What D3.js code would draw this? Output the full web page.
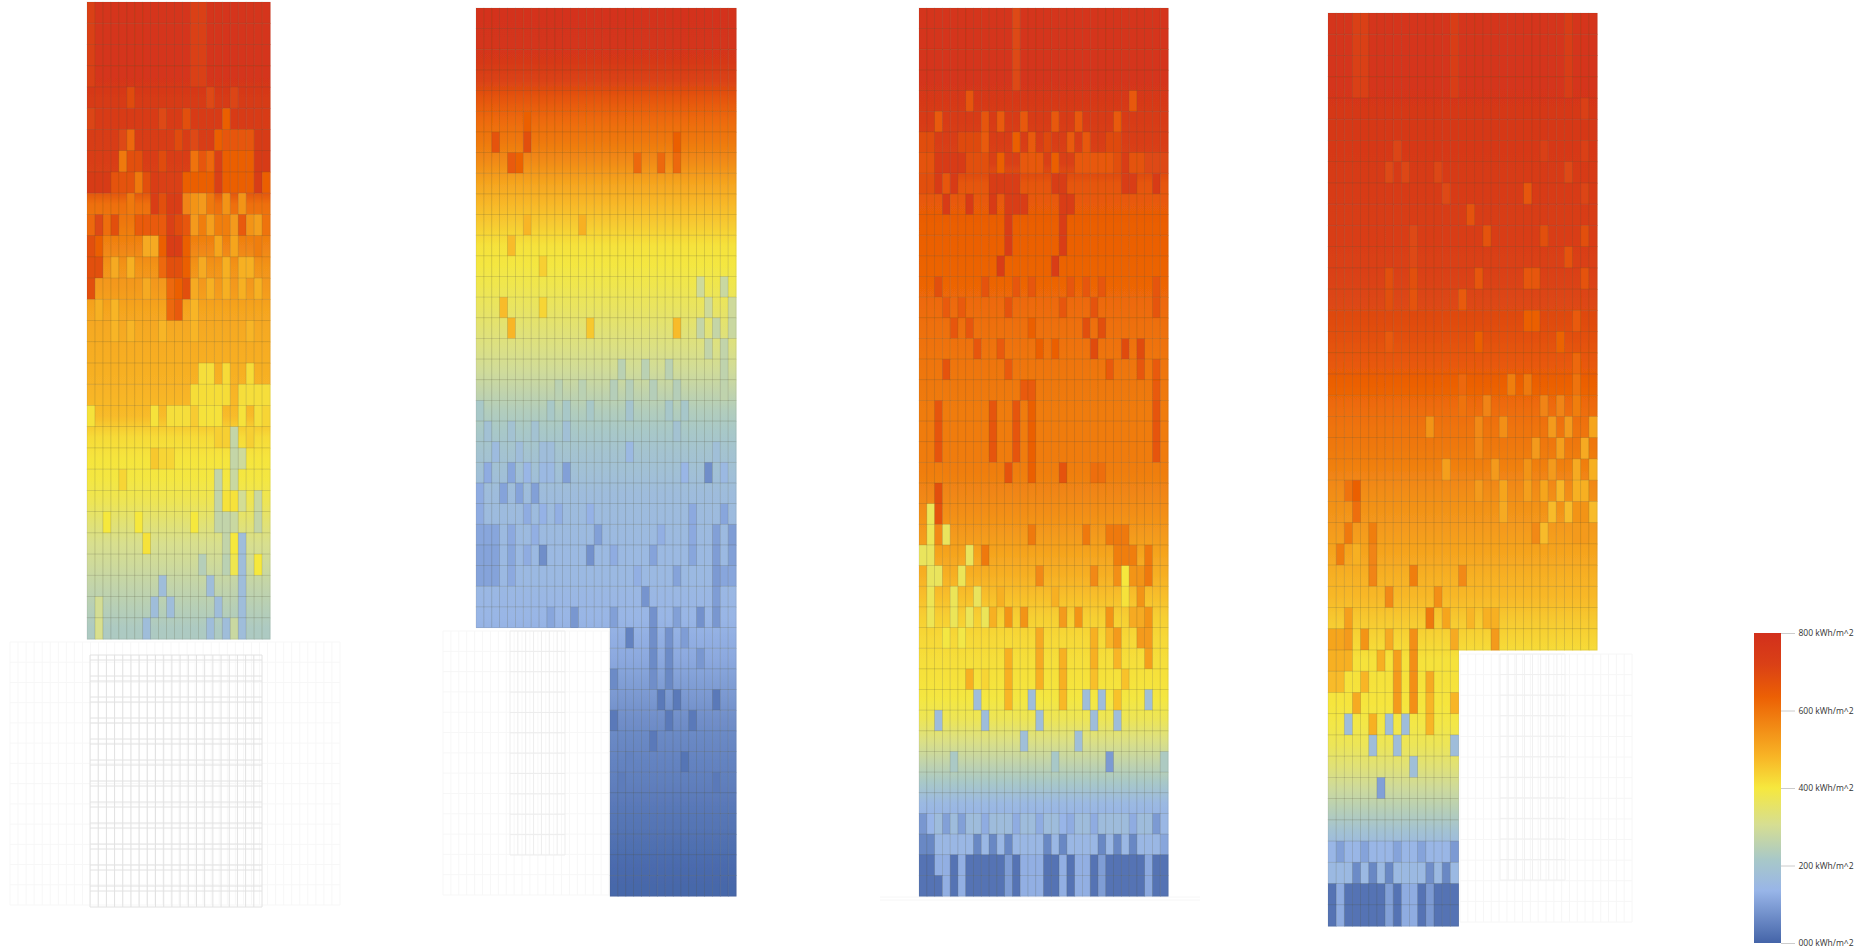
<!DOCTYPE html>
<html>
<head>
    <title>Solar radiation on facades</title>
    <script src="https://d3js.org/d3.v7.min.js"></script>
    <style>
        html, body { margin: 0; padding: 0; background: #fff; }
        svg { display: block; }
        .legend text { font-family: "Open Sans", Arial; font-size: 8.5px; fill: #333; }
    </style>
</head>
<body>
<div id="chart"></div>
<script>
// values in kWh/m^2
const legendTicks = [0, 200, 400, 600, 800];
const colorStops = [0, 135, 215, 305, 400, 480, 635, 720, 800];
const colorValues = ["#4464a8", "#98b5e8", "#a8c8c8", "#d6de92", "#f6e83e", "#f8b526", "#ec6004", "#da4016", "#d2301c"];

// base level of each row, top to bottom
const rows1 = [775,775,775,775,750,745,740,730,720,610,590,570,540,530,510,500,495,490,480,470,420,405,395,375,340,310,290,265,245,225];
const rows2 = [785,780,765,715,660,615,590,555,510,475,445,410,395,380,360,340,320,295,265,235,215,195,180,165,160,155,150,150,145,140,125,115,100,85,70,60,52,45,35,28,20,12,5];
const rows3 = [775,775,775,775,755,745,730,720,665,650,640,635,630,625,615,605,600,595,590,585,585,585,580,565,550,530,510,490,465,440,425,415,410,395,370,320,265,215,150,130,175,25,25];
const rows4 = [775,775,775,775,765,760,755,750,745,740,735,725,715,705,690,675,655,635,615,600,590,575,555,540,525,510,490,475,450,430,410,410,405,390,370,335,290,245,190,140,165,25,20];

// cells that differ from the row level: [firstRow, lastRow, [col, value] or [firstCol, lastCol, value], ...]
const spots1 = [
  [0,3,[0,725],[13,14,725]],
  [4,4,[5,690],[15,700],[18,710]],
  [5,5,[0,710],[9,700],[12,680],[17,640]],
  [6,6,[4,700],[5,620],[11,690],[13,700],[16,640],[17,20,660],[21,22,750]],
  [7,7,[4,590],[5,6,680],[9,690],[13,600],[14,660],[15,620],[16,720],[17,20,640],[21,22,750]],
  [8,8,[0,2,750],[3,5,670],[6,590],[7,680],[8,730],[9,11,720],[12,15,640],[16,720],[17,20,640],[21,740],[22,640]],
  [9,9,[5,590],[8,735],[9,680],[10,11,735],[12,570],[13,540],[14,530],[15,590],[17,540],[19,540]],
  [10,10,[0,620],[1,700],[2,610],[3,680],[6,9,650],[10,720],[11,690],[12,660],[13,530],[14,580],[15,520],[16,17,580],[18,530],[19,650],[20,540],[21,520],[22,600]],
  [11,11,[0,680],[1,640],[7,8,500],[9,640],[10,11,730],[12,640],[16,510],[18,510],[21,580]],
  [12,12,[0,1,680],[3,500],[5,490],[9,620],[10,11,680],[12,640],[14,500],[17,490],[19,20,490]],
  [13,13,[0,680],[7,500],[10,620],[11,640],[12,680],[13,500],[15,490],[17,490],[19,490],[21,490]],
  [14,14,[1,490],[3,480],[10,620],[11,650],[13,480]],
  [15,15,[3,480],[5,480],[9,480],[13,480],[20,480]],
  [17,17,[14,15,415],[17,420],[20,420]],
  [18,18,[13,17,418],[19,22,415]],
  [19,19,[0,410],[8,410],[10,12,415],[13,445],[14,16,410],[19,410],[21,415],[22,430]],
  [20,20,[16,17,440],[18,270],[20,440]],
  [21,21,[8,450],[9,10,430],[18,270],[19,290]],
  [22,22,[4,430],[16,265],[18,280]],
  [23,23,[16,265],[17,18,410],[19,300],[21,280]],
  [24,24,[2,400],[6,400],[13,400],[16,17,265],[18,280],[21,270]],
  [25,25,[7,410],[17,265],[18,400],[19,170]],
  [26,26,[14,240],[17,250],[18,380],[19,170],[21,400]],
  [27,27,[9,170],[15,170],[19,170]],
  [28,28,[1,300],[8,170],[10,170],[16,170],[19,170]],
  [29,29,[1,310],[7,170],[15,170],[17,170],[18,280],[19,170]]
];
const spots2 = [
  [5,5,[6,640]],
  [6,6,[2,670],[6,680],[25,640]],
  [7,7,[4,650],[5,630],[20,620],[23,620],[25,620]],
  [10,10,[6,480],[13,490]],
  [11,11,[4,470]],
  [12,12,[8,440]],
  [13,13,[28,290],[31,280]],
  [14,14,[3,470],[8,430],[29,290],[32,290]],
  [15,15,[4,480],[14,450],[25,470],[28,270],[30,270],[32,280]],
  [16,16,[29,265],[31,265]],
  [17,17,[18,250],[21,250],[24,250],[31,260]],
  [18,18,[10,250],[13,250],[17,240],[19,240],[22,240],[25,240],[31,260]],
  [19,19,[0,215],[9,215],[11,215],[14,215],[19,200],[24,210],[26,210]],
  [20,20,[1,185],[4,190],[7,190],[11,180],[25,190]],
  [21,21,[2,160],[5,170],[8,9,170],[19,150],[30,175]],
  [22,22,[1,120],[4,110],[6,140],[8,9,150],[11,100],[26,140],[29,70],[31,150]],
  [23,23,[0,120],[3,105],[5,105],[7,100]],
  [24,24,[0,120],[6,120],[8,130],[10,125],[14,130],[27,115],[31,110]],
  [25,25,[0,2,110],[4,115],[7,125],[15,100],[23,125],[27,115],[30,100],[32,95]],
  [26,26,[0,2,105],[4,110],[6,120],[8,70],[14,75],[17,120],[22,105],[27,110],[30,95],[32,100]],
  [27,27,[0,2,105],[4,115],[20,125],[25,105],[30,90],[31,32,110]],
  [28,28,[21,80],[30,95]],
  [29,29,[9,110],[12,85],[17,100],[22,75],[25,100],[28,75],[30,85]],
  [30,30,[19,50],[22,70],[24,75],[26,95]],
  [31,31,[22,65],[24,65],[28,85]],
  [32,32,[17,65],[22,70],[24,60]],
  [33,33,[23,35],[25,35],[30,35]],
  [34,34,[17,35],[24,35],[27,35]],
  [35,35,[22,35]],
  [36,36,[19,50],[26,28]],
  [37,37,[18,40],[30,35]]
];
const spots3 = [
  [0,3,[12,700]],
  [4,4,[6,665],[27,655]],
  [5,5,[2,650],[8,665],[10,650],[13,655],[17,655],[20,655],[25,650]],
  [6,6,[0,1,685],[5,7,695],[8,650],[12,640],[14,650],[16,695],[19,650],[21,655],[24,25,695]],
  [7,7,[0,1,670],[2,5,745],[6,8,680],[10,640],[13,15,655],[17,640],[20,24,655],[25,680],[26,730],[27,28,670],[29,31,700]],
  [8,8,[0,1,680],[2,745],[3,660],[4,745],[9,10,740],[11,12,735],[17,18,740],[26,27,735],[30,745]],
  [9,9,[3,745],[6,745],[9,745],[11,13,735],[18,19,735]],
  [10,11,[11,735],[18,735]],
  [12,12,[10,735],[17,735]],
  [13,13,[2,680],[8,670],[12,660],[14,660],[19,660],[21,660],[23,660],[30,665]],
  [14,14,[3,650],[5,650],[11,670],[18,660],[22,670],[30,665]],
  [15,15,[4,660],[6,660],[14,640],[21,680],[23,680]],
  [16,16,[7,660],[10,650],[15,640],[17,640],[22,690],[26,690],[28,690]],
  [17,17,[3,670],[11,650],[24,650],[28,660],[30,650]],
  [18,18,[13,14,650],[30,650]],
  [19,21,[2,665],[9,665],[12,665],[14,640],[30,665]],
  [22,22,[11,670],[14,640],[18,670],[22,23,610]],
  [23,23,[2,680]],
  [24,24,[1,370],[2,670]],
  [25,25,[1,375],[2,560],[3,365],[14,590],[21,590],[24,26,590]],
  [26,26,[0,1,365],[6,365],[8,590],[25,27,580],[29,590]],
  [27,27,[1,2,365],[5,370],[15,560],[22,560],[25,550],[26,400],[27,28,540],[29,590]],
  [28,28,[1,375],[4,370],[7,365],[10,490],[17,490],[26,410],[28,540]],
  [29,29,[1,375],[4,370],[6,370],[8,370],[9,490],[11,540],[13,540],[18,530],[20,540],[24,540],[27,28,500],[29,540]],
  [30,30,[3,395],[5,390],[15,500],[22,490],[24,480],[25,530],[28,530],[29,530]],
  [31,31,[11,490],[15,500],[18,490],[22,490],[25,480],[29,520]],
  [32,32,[6,490],[8,430],[11,490],[15,490],[18,490],[22,465],[26,460]],
  [33,33,[7,170],[11,480],[14,170],[18,475],[21,170],[23,170],[25,460],[29,175]],
  [34,34,[2,165],[8,170],[15,170],[22,170],[25,170]],
  [35,35,[13,175],[20,175]],
  [36,36,[4,220],[17,215],[24,90],[31,225]],
  [39,39,[0,31,135],[0,85],[2,165],[3,100],[4,165],[5,100],[6,7,165],[8,120],[9,11,165],[12,120],[13,14,165],[15,120],[16,17,165],[19,120],[20,21,165],[22,120],[23,26,165],[27,120],[28,29,165],[30,90],[31,145]],
  [40,40,[0,31,145],[0,1,60],[7,60],[9,60],[11,60],[16,60],[18,60],[23,60],[25,60],[27,60],[31,110]],
  [41,42,[0,31,25]],
  [41,41,[2,125]],
  [41,42,[3,125],[5,125],[11,95],[13,15,125],[18,125],[20,21,125],[23,95],[29,115]]
];
const spots4 = [
  [0,3,[3,4,725],[15,730],[29,730]],
  [4,4,[31,720]],
  [6,6,[8,710],[26,720],[31,720]],
  [7,7,[7,700],[9,705],[13,705],[29,700]],
  [8,8,[14,700],[24,660],[31,710]],
  [9,9,[17,670]],
  [10,10,[10,700],[19,670],[26,680],[31,680]],
  [11,11,[10,700],[29,670]],
  [12,12,[7,680],[10,680],[18,660],[24,25,660],[31,670]],
  [13,13,[7,680],[10,670],[16,650]],
  [14,14,[24,25,640],[30,650]],
  [15,15,[7,650],[18,640],[28,630]],
  [16,16,[30,620]],
  [17,17,[16,620],[22,580],[24,590],[30,600]],
  [18,18,[16,600],[19,570],[26,570],[28,570],[30,580]],
  [19,19,[12,540],[18,560],[21,550],[27,530],[29,530],[32,510]],
  [20,20,[18,560],[25,530],[28,520],[31,500]],
  [21,21,[14,520],[20,530],[24,540],[27,530],[30,500],[32,490]],
  [22,22,[2,600],[3,640],[18,530],[21,510],[24,520],[26,510],[28,480],[30,31,490]],
  [23,23,[3,610],[21,500],[27,470],[29,470],[30,31,540],[32,470]],
  [24,24,[2,590],[5,580],[25,560],[26,470],[30,31,530]],
  [25,25,[1,580],[3,490],[5,570]],
  [26,26,[5,570],[10,580],[16,560]],
  [27,27,[7,560],[13,550]],
  [28,28,[2,520],[12,590],[14,510],[17,480],[19,20,490]],
  [29,29,[0,1,510],[2,530],[4,540],[7,500],[10,550],[15,500],[20,530]],
  [30,30,[0,2,490],[6,490],[8,520],[10,550]],
  [31,31,[0,1,470],[4,480],[8,530],[10,550],[12,500]],
  [32,32,[3,500],[8,530],[10,550],[12,480],[15,480]],
  [33,33,[2,170],[5,490],[7,170],[9,170],[12,480]],
  [34,34,[5,170],[8,170],[15,170]],
  [35,35,[10,175]],
  [36,36,[6,100]],
  [39,39,[0,32,140],[1,100],[4,105],[8,105],[11,105],[15,90]],
  [40,40,[0,32,150],[3,65],[5,60],[7,60],[12,70],[14,60]],
  [41,42,[0,32,25],[1,120],[7,100],[9,10,120],[12,90]]
];

// where each panel sits on the page
const panels = [
  { id: "p1", rows: rows1, spots: spots1, cols: 23, x: 87, y: 2, w: 183, h: 637 },
  { id: "p2", rows: rows2, spots: spots2, cols: 33, x: 476, y: 8, w: 260, h: 888, cutRow: 30, cutCols: [0, 16] },
  { id: "p3", rows: rows3, spots: spots3, cols: 32, x: 919, y: 8, w: 249, h: 888 },
  { id: "p4", rows: rows4, spots: spots4, cols: 33, x: 1328, y: 13, w: 269, h: 913, cutRow: 30, cutCols: [16, 32] }
];
// faint empty grids under the panels
const ghosts = [
  { x0: 10, x1: 340, y0: 642, y1: 905, cols: 41, rows: 13, color: "#f7f7f7" },
  { x0: 90, x1: 262, y0: 655, y1: 907, cols: 21, rows: 12, color: "#e2e2e2", pair: 5 },
  { x0: 443, x1: 609, y0: 631, y1: 895, cols: 21, rows: 13, color: "#f7f7f7" },
  { x0: 510, x1: 565, y0: 631, y1: 855, cols: 7, rows: 11, color: "#ededed" },
  { x0: 1460, x1: 1632, y0: 654, y1: 922, cols: 22, rows: 13, color: "#f6f6f6" },
  { x0: 1500, x1: 1565, y0: 654, y1: 880, cols: 8, rows: 11, color: "#f0f0f0" },
  { x0: 880, x1: 1200, y0: 897, y1: 900, cols: 0, rows: 1, color: "#f6f6f6" }
];

const color = d3.scaleLinear().domain(colorStops).range(colorValues);

const svg = d3.select("#chart").append("svg").attr("width", 1857).attr("height", 948);
const defs = svg.append("defs");
defs.append("filter").attr("id", "soft")
    .attr("x", "-2%").attr("y", "-2%").attr("width", "104%").attr("height", "104%")
    .append("feGaussianBlur").attr("stdDeviation", 0.55);

// empty grids
const ghostG = svg.append("g").attr("filter", "url(#soft)");
ghosts.forEach(g => {
    const gx = d3.scaleLinear().domain([0, g.cols || 1]).range([g.x0, g.x1]);
    const gy = d3.scaleLinear().domain([0, g.rows]).range([g.y0, g.y1]);
    const grp = ghostG.append("g").attr("stroke", g.color).attr("stroke-width", 1);
    grp.selectAll(".v").data(d3.range(g.cols ? g.cols + 1 : 0)).join("line")
        .attr("x1", gx).attr("x2", gx).attr("y1", g.y0).attr("y2", g.y1);
    grp.selectAll(".h").data(d3.range(g.rows + 1)).join("line")
        .attr("y1", gy).attr("y2", gy).attr("x1", g.x0).attr("x2", g.x1);
    if (g.pair) {
        grp.selectAll(".h2").data(d3.range(g.rows)).enter().append("line")
            .attr("y1", d => gy(d) + g.pair).attr("y2", d => gy(d) + g.pair)
            .attr("x1", g.x0).attr("x2", g.x1);
    }
});

// turn row levels and spots into one cell list
function buildCells(p) {
    const grid = p.rows.map(v => d3.range(p.cols).map(() => ({ v, spot: false })));
    p.spots.forEach(([r0, r1, ...items]) => {
        items.forEach(it => {
            const c0 = it[0], c1 = it.length === 3 ? it[1] : it[0], v = it[it.length - 1];
            for (let r = r0; r <= r1; r++) for (let c = c0; c <= c1; c++) grid[r][c] = { v, spot: true };
        });
    });
    const cells = [];
    grid.forEach((line, r) => line.forEach((d, c) => {
        const cut = p.cutRow !== undefined && r >= p.cutRow && c >= p.cutCols[0] && c <= p.cutCols[1];
        if (!cut) cells.push({ r, c, v: d.v, spot: d.spot });
    }));
    return cells;
}

panels.forEach(p => {
    const x = d3.scaleBand().domain(d3.range(p.cols)).range([p.x, p.x + p.w]);
    const y = d3.scaleBand().domain(d3.range(p.rows.length)).range([p.y, p.y + p.h]);

    // row levels blend into each other down the panel
    const ramp = defs.append("linearGradient").attr("id", "ramp-" + p.id)
        .attr("gradientUnits", "userSpaceOnUse")
        .attr("x1", 0).attr("x2", 0).attr("y1", p.y).attr("y2", p.y + p.h);
    p.rows.forEach((v, r) => {
        ramp.append("stop")
            .attr("offset", (y(r) + y.bandwidth() / 2 - p.y) / p.h)
            .attr("stop-color", color(v));
    });

    const g = svg.append("g").attr("filter", "url(#soft)");
    const cells = buildCells(p);
    g.selectAll("rect.fill").data(cells).join("rect").attr("class", "fill")
        .attr("x", d => x(d.c)).attr("y", d => y(d.r))
        .attr("width", x.bandwidth() + 0.5).attr("height", y.bandwidth() + 0.5)
        .attr("fill", d => d.spot ? color(d.v) : `url(#ramp-${p.id})`);
    g.selectAll("rect.line").data(cells).join("rect").attr("class", "line")
        .attr("x", d => x(d.c)).attr("y", d => y(d.r))
        .attr("width", x.bandwidth()).attr("height", y.bandwidth())
        .attr("fill", "none").attr("stroke", "#55553a").attr("stroke-opacity", 0.15).attr("stroke-width", 0.7);
});

// legend
const legendY = d3.scaleLinear().domain([0, 800]).range([943, 633]);
const grad = defs.append("linearGradient").attr("id", "ramp")
    .attr("x1", 0).attr("x2", 0).attr("y1", 1).attr("y2", 0);
colorStops.forEach((s, i) => {
    grad.append("stop").attr("offset", s / 800).attr("stop-color", colorValues[i]);
});
const legend = svg.append("g").attr("class", "legend");
legend.append("rect").attr("x", 1754).attr("y", legendY(800)).attr("width", 27)
    .attr("height", legendY(0) - legendY(800)).attr("fill", "url(#ramp)");
const axis = legend.append("g").attr("transform", "translate(1781,0)")
    .call(d3.axisRight(legendY).tickValues(legendTicks).tickSize(14)
        .tickFormat(d => String(d).padStart(3, "0") + " kWh/m^2"));
axis.select(".domain").remove();
axis.selectAll(".tick line").attr("stroke", "#ccc");
axis.selectAll(".tick text").attr("x", 45).attr("text-anchor", "middle");
</script>
</body>
</html>
